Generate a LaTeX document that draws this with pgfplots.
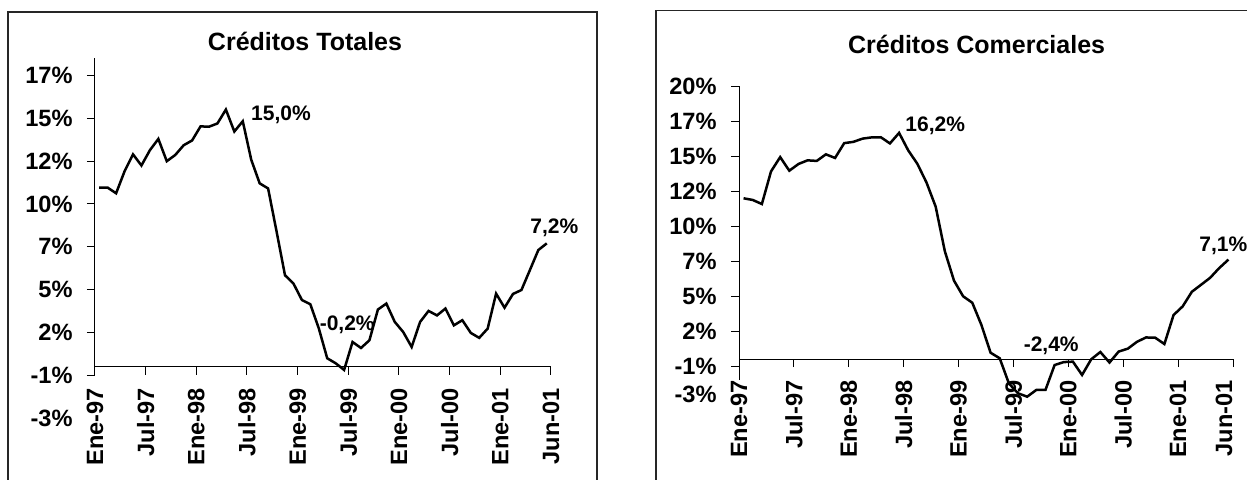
\documentclass[border=0pt]{standalone}
\usepackage{fontspec}
\setmainfont{Liberation Sans}
\usepackage{pgfplots}
\usepackage{pgfplotstable}
\pgfplotsset{compat=1.18}

\pgfplotstableread{
x v
0.5 10.45
1.5 10.45
2.5 10.12
3.5 11.40
4.5 12.39
5.5 11.74
6.5 12.63
7.5 13.29
8.5 11.99
9.5 12.35
10.5 12.92
11.5 13.20
12.5 14.02
13.5 14.00
14.5 14.19
15.5 15.00
16.5 13.72
17.5 14.32
18.5 12.08
19.5 10.70
20.5 10.40
21.5 7.90
22.5 5.34
23.5 4.86
24.5 3.90
25.5 3.65
26.5 2.25
27.5 0.50
28.5 0.21
29.5 -0.18
30.5 1.45
31.5 1.10
32.5 1.55
33.5 3.34
34.5 3.69
35.5 2.62
36.5 2.03
37.5 1.16
38.5 2.62
39.5 3.26
40.5 3.00
41.5 3.40
42.5 2.42
43.5 2.72
44.5 1.98
45.5 1.69
46.5 2.23
47.5 4.27
48.5 3.45
49.5 4.25
50.5 4.48
51.5 5.64
52.5 6.81
53.5 7.20
}\totales

\pgfplotstableread{
x v
0.5 11.48
1.5 11.36
2.5 11.07
3.5 13.40
4.5 14.42
5.5 13.45
6.5 13.93
7.5 14.19
8.5 14.15
9.5 14.62
10.5 14.36
11.5 15.42
12.5 15.51
13.5 15.74
14.5 15.83
15.5 15.84
16.5 15.40
17.5 16.15
18.5 14.90
19.5 13.94
20.5 12.60
21.5 10.88
22.5 7.70
23.5 5.60
24.5 4.48
25.5 4.02
26.5 2.43
27.5 0.45
28.5 0.05
29.5 -1.74
30.5 -2.45
31.5 -2.69
32.5 -2.21
33.5 -2.21
34.5 -0.43
35.5 -0.22
36.5 -0.19
37.5 -1.14
38.5 -0.02
39.5 0.50
40.5 -0.25
41.5 0.53
42.5 0.74
43.5 1.23
44.5 1.54
45.5 1.52
46.5 1.07
47.5 3.14
48.5 3.76
49.5 4.80
50.5 5.30
51.5 5.80
52.5 6.50
53.5 7.10
}\comerciales

\pgfplotsset{
  panel/.style={
    scale only axis,
    xmin=0, xmax=54,
    axis x line=middle,
    axis y line=left,
    axis line style={-, black, line width=0.5pt},
    y axis line style={draw=none},
    hide obscured x ticks=false,
    hide obscured y ticks=false,
    tick align=outside,
    major tick length=4pt,
    tick style={black, line width=0.5pt},
    xticklabel style={yshift=-5.5pt, rotate=90, anchor=east, inner sep=1pt,
      font=\bfseries\fontsize{11.8}{12}\selectfont},
    yticklabel style={anchor=east, inner sep=1pt, xshift=-6pt,
      font=\bfseries\fontsize{11.8}{12}\selectfont},
    extra y tick style={major tick style={draw=none}},
    clip=false,
  }
}

\begin{document}
\begin{tikzpicture}
\useasboundingbox (0,0) rectangle (623.5pt,239.5pt);
\clip (0,0) rectangle (623.5pt,239.5pt);
% frames
\draw[line width=0.6pt, black!85] (4pt,-20pt) rectangle (298.5pt,233.5pt);
\draw[line width=0.6pt, black!85] (328pt,-20pt) rectangle (660pt,234.2pt);

\begin{axis}[panel,
  at={(47.5pt,30.35pt)}, anchor=south west,
  width=228pt, height=180.1pt,
  ymin=-3, ymax=18,
  xtick={0,6,...,54},
  xticklabels={Ene-97,Jul-97,Ene-98,Jul-98,Ene-99,Jul-99,Ene-00,Jul-00,Ene-01,Jun-01},
  ytick={-0.5,2,4.5,7,9.5,12,14.5,17},
  yticklabels={-1\%,2\%,5\%,7\%,10\%,12\%,15\%,17\%},
  extra y ticks={-3}, extra y tick labels={-3\%},
]
\addplot[black, line width=1.25pt] table[x=x, y=v] {\totales};
\draw[black, line width=0.5pt] (axis cs:0,-0.5) -- (axis cs:0,18);
\end{axis}

\begin{axis}[panel,
  at={(369.5pt,39pt)}, anchor=south west,
  width=247pt, height=157.5pt,
  ymin=-3, ymax=19.5,
  xtick={0,6,...,48},
  xticklabels={Ene-97,Jul-97,Ene-98,Jul-98,Ene-99,Jul-99,Ene-00,Jul-00,Ene-01},
  extra x ticks={54}, extra x tick labels={Jun-01},
  extra x tick style={xticklabel style={yshift=4.5pt}},
  ytick={-0.5,2,4.5,7,9.5,12,14.5,17,19.5},
  yticklabels={-1\%,2\%,5\%,7\%,10\%,12\%,15\%,17\%,20\%},
  extra y ticks={-2.5}, extra y tick labels={-3\%},
]
\addplot[black, line width=1.25pt] table[x=x, y=v] {\comerciales};
\draw[black, line width=0.5pt] (axis cs:0,-1.5) -- (axis cs:0,19.5);
\end{axis}

% titles
\node[anchor=base, inner sep=0pt, font=\bfseries\fontsize{12.5}{14}\selectfont] at (152.5pt,214.5pt) {Créditos Totales};
\node[anchor=base, inner sep=0pt, font=\bfseries\fontsize{12.5}{14}\selectfont] at (488.3pt,212.9pt) {Créditos Comerciales};

% annotations
\begin{scope}[every node/.style={anchor=base west, inner sep=0pt, font=\bfseries\fontsize{10.5}{12}\selectfont}]
\node at (125.4pt,179.2pt) {15,0\%};
\node at (159.7pt,74.2pt) {-0,2\%};
\node at (265pt,122.9pt) {7,2\%};
\node at (452.5pt,173.7pt) {16,2\%};
\node at (511.7pt,63.7pt) {-2,4\%};
\node at (599.5pt,113.7pt) {7,1\%};
\end{scope}
\end{tikzpicture}
\end{document}
